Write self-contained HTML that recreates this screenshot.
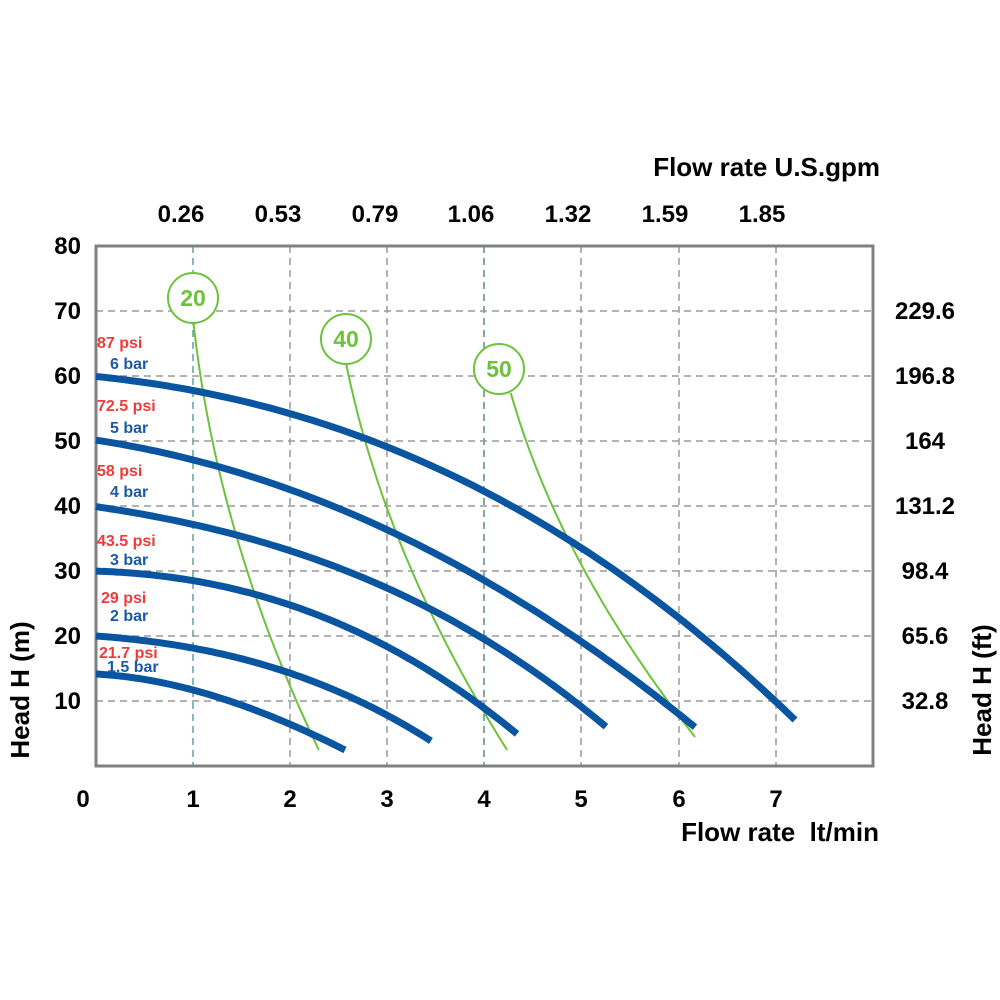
<!DOCTYPE html>
<html><head><meta charset="utf-8"><style>
html,body{margin:0;padding:0;background:#fff;}
svg{display:block;font-family:"Liberation Sans",Arial,sans-serif;font-weight:bold;}
</style></head><body>
<svg id="s" width="1000" height="1000" viewBox="0 0 1000 1000" xmlns="http://www.w3.org/2000/svg">
<g stroke="#9a9a9a" stroke-width="1.5" stroke-dasharray="7,5" fill="none">
<line x1="193" y1="246" x2="193" y2="766" stroke="#5aa0a8"/>
<line x1="290" y1="246" x2="290" y2="766"/>
<line x1="387" y1="246" x2="387" y2="766"/>
<line x1="484" y1="246" x2="484" y2="766" stroke="#5a8a90"/>
<line x1="581" y1="246" x2="581" y2="766"/>
<line x1="679" y1="246" x2="679" y2="766"/>
<line x1="776" y1="246" x2="776" y2="766"/>
<line x1="96" y1="311" x2="873" y2="311"/>
<line x1="96" y1="376" x2="873" y2="376"/>
<line x1="96" y1="441" x2="873" y2="441"/>
<line x1="96" y1="506" x2="873" y2="506"/>
<line x1="96" y1="571" x2="873" y2="571"/>
<line x1="96" y1="636" x2="873" y2="636"/>
<line x1="96" y1="701" x2="873" y2="701"/>
</g>
<rect x="96" y="246" width="777" height="520" fill="none" stroke="#808080" stroke-width="3"/>
<g id="curves" fill="none"></g>
<g fill="#fff" stroke="#6cc23a" stroke-width="2">
<circle cx="193" cy="298" r="25"/><circle cx="346" cy="339" r="25"/><circle cx="499" cy="369" r="25"/>
</g>
<g fill="#6cc23a" font-size="23" text-anchor="middle">
<text x="193" y="306">20</text><text x="346" y="347">40</text><text x="499" y="377">50</text>
</g>
<g font-size="24" fill="#000" text-anchor="end">
<text x="81" y="254">80</text><text x="81" y="319">70</text><text x="81" y="384">60</text><text x="81" y="449">50</text>
<text x="81" y="514">40</text><text x="81" y="579">30</text><text x="81" y="644">20</text><text x="81" y="709">10</text>
</g>
<g font-size="24" fill="#000" text-anchor="middle">
<text x="83" y="807">0</text><text x="193" y="807">1</text><text x="290" y="807">2</text><text x="387" y="807">3</text>
<text x="484" y="807">4</text><text x="581" y="807">5</text><text x="679" y="807">6</text><text x="776" y="807">7</text>
<text x="925" y="319">229.6</text><text x="925" y="384">196.8</text><text x="925" y="449">164</text><text x="925" y="514">131.2</text>
<text x="925" y="579">98.4</text><text x="925" y="644">65.6</text><text x="925" y="709">32.8</text>
<text x="181" y="222">0.26</text><text x="278" y="222">0.53</text><text x="375" y="222">0.79</text><text x="471" y="222">1.06</text>
<text x="568" y="222">1.32</text><text x="665" y="222">1.59</text><text x="762" y="222">1.85</text>
</g>
<g font-size="26" fill="#000">
<text x="880" y="176" text-anchor="end">Flow rate U.S.gpm</text>
<text x="879" y="841" text-anchor="end" xml:space="preserve">Flow rate  lt/min</text>
<text transform="translate(29,690) rotate(-90)" text-anchor="middle">Head H (m)</text>
<text transform="translate(991,690) rotate(-90)" text-anchor="middle">Head H (ft)</text>
</g>
<g font-size="16">
<text x="97" y="348" fill="#f03a3a">87 psi</text><text x="110" y="369" fill="#1a5aa8">6 bar</text>
<text x="97" y="411" fill="#f03a3a">72.5 psi</text><text x="110" y="433" fill="#1a5aa8">5 bar</text>
<text x="97" y="476" fill="#f03a3a">58 psi</text><text x="110" y="497" fill="#1a5aa8">4 bar</text>
<text x="97" y="546" fill="#f03a3a">43.5 psi</text><text x="110" y="565" fill="#1a5aa8">3 bar</text>
<text x="101" y="603" fill="#f03a3a">29 psi</text><text x="110" y="621" fill="#1a5aa8">2 bar</text>
<text x="99" y="658" fill="#f03a3a">21.7 psi</text><text x="107" y="672" fill="#1a5aa8">1.5 bar</text>
</g>
</svg>
<script>
function fit(pts,deg){var n=deg+1,A=[],b=[];for(var i=0;i<n;i++){A.push(new Array(n).fill(0));b.push(0);}
pts.forEach(function(p){for(var i=0;i<n;i++){b[i]+=p[1]*Math.pow(p[0],i);for(var j=0;j<n;j++)A[i][j]+=Math.pow(p[0],i+j);}});
for(var k=0;k<n;k++){for(var i=k+1;i<n;i++){var f=A[i][k]/A[k][k];for(var j=k;j<n;j++)A[i][j]-=f*A[k][j];b[i]-=f*b[k];}}
var c=new Array(n).fill(0);for(var i=n-1;i>=0;i--){var s=b[i];for(var j=i+1;j<n;j++)s-=A[i][j]*c[j];c[i]=s/A[i][i];}return c;}
function ev(c,x){var s=0;for(var i=0;i<c.length;i++)s+=c[i]*Math.pow(x,i);return s;}
var blue=[
[[0,674],[97,690],[184,720],[249,750]],
[[0,636],[97,648],[184,670],[291,715],[335,741]],
[[0,572],[97,578],[184,603],[291,650],[388,700],[421,739]],
[[0,507],[97,523],[194,553],[291,585],[388,643],[485,700],[510,731]],
[[0,441],[97,458],[194,490],[291,530],[391,585],[485,637],[583,717],[599,726]],
[[0,376],[97,392],[194,413],[291,445],[388,493],[485,548],[584,618],[680,702],[699,720]]];
var green=[
[[323,193],[400,205],[470,220],[550,240],[620,262],[660,280],[705,300],[750,318]],
[[364,346],[420,360],[490,380],[560,407],[610,430],[660,455],[700,477],[750,507]],
[[393,510],[450,530],[510,555],[560,580],[600,600],[637,623],[670,645],[700,667],[737,696]]];
var g=document.getElementById("curves"),ns="http://www.w3.org/2000/svg";
function add(d,col,w){var e=document.createElementNS(ns,"path");e.setAttribute("d",d);e.setAttribute("stroke",col);e.setAttribute("stroke-width",w);g.appendChild(e);}
green.forEach(function(p){var c=fit(p,2),y0=p[0][0],y1=p[p.length-1][0],d="";
for(var i=0;i<=80;i++){var y=y0+(y1-y0)*i/80;d+=(i?"L":"M")+ev(c,y).toFixed(1)+","+y.toFixed(1);}add(d,"#6cc23a",2);});
blue.forEach(function(p){var c=fit(p,3),x1=p[p.length-1][0],d="";
for(var i=0;i<=100;i++){var x=x1*i/100;d+=(i?"L":"M")+(96+x).toFixed(1)+","+ev(c,x).toFixed(1);}add(d,"#0a55a0",7);});
</script>
</body></html>
